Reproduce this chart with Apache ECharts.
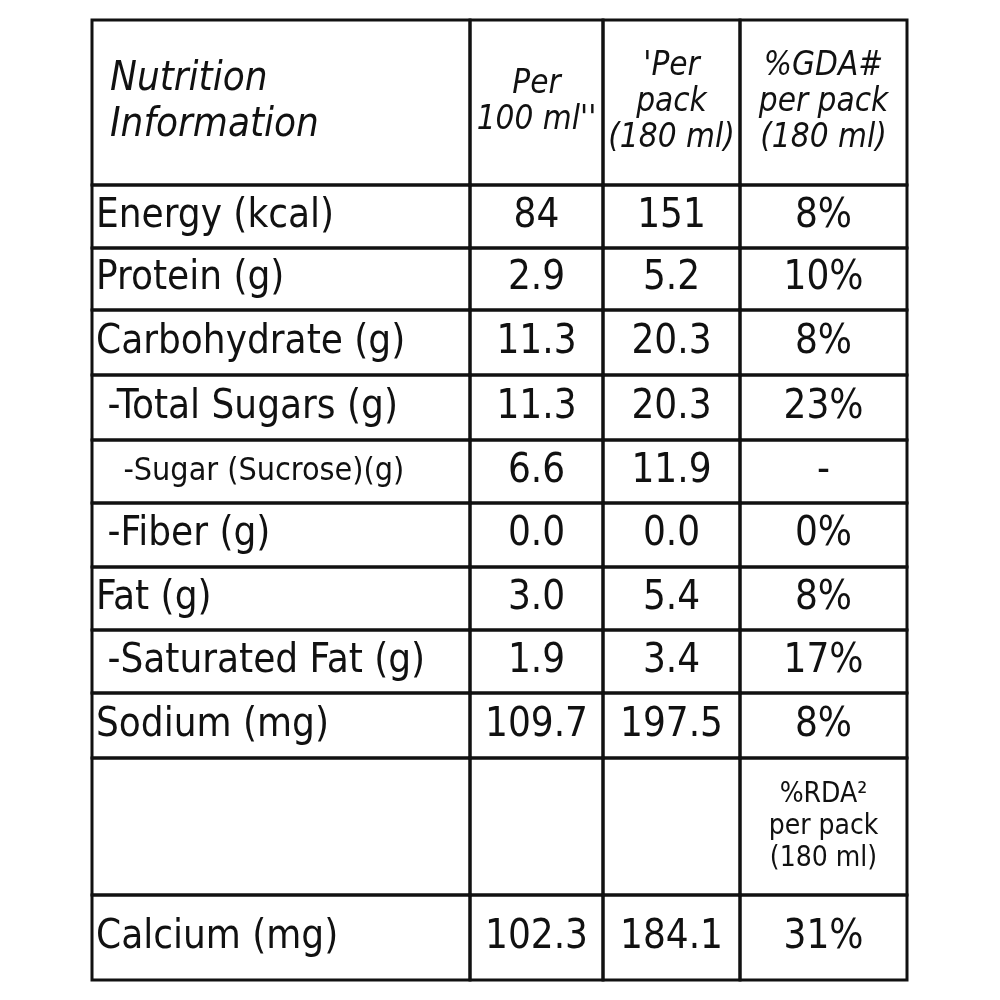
<!DOCTYPE html>
<html>
<head>
<meta charset="utf-8">
<script src="https://cdn.jsdelivr.net/npm/echarts@6/dist/echarts.min.js"></script>
<style>html,body{margin:0;background:#fff}#chart{width:1000px;height:1000px}</style>
</head>
<body>
<div id="chart"></div>
<script>
// table content
const rowNames = ['Energy (kcal)', 'Protein (g)', 'Carbohydrate (g)', ' -Total Sugars (g)', '   -Sugar (Sucrose)(g)',
  ' -Fiber (g)', 'Fat (g)', ' -Saturated Fat (g)', 'Sodium (mg)', '', 'Calcium (mg)']
const per100 = ['84', '2.9', '11.3', '11.3', '6.6', '0.0', '3.0', '1.9', '109.7', '', '102.3']
const perPack = ['151', '5.2', '20.3', '20.3', '11.9', '0.0', '5.4', '3.4', '197.5', '', '184.1']
const gda = ['8%', '10%', '8%', '23%', '-', '0%', '8%', '17%', '8%', '%RDA\u00b2\nper pack\n(180 ml)', '31%']
const headers = ['Nutrition\nInformation', 'Per\n100 ml\'\'', '\'Per\npack\n(180 ml)', '%GDA#\nper pack\n(180 ml)']

// layout (pixel-ish units on the axes)
const colEdges = [0, 378, 511, 648, 815]
const rowEdges = [0, 165, 228, 290, 355, 420, 483, 547, 610, 673, 738, 875, 960]

const chart = echarts.init(document.getElementById('chart'))
const rows = [headers].concat(rowNames.map((n, i) => [n, per100[i], perPack[i], gda[i]]))

const font = '"DejaVu Sans Condensed", "Liberation Sans Narrow", sans-serif'

chart.setOption({
  animation: false,
  grid: { left: 92, right: 93, top: 20, bottom: 20 },
  xAxis: { type: 'value', min: 0, max: 815, show: false },
  yAxis: { type: 'value', min: 0, max: 960, inverse: true, show: false },
  series: [{
    type: 'custom',
    data: rows.map((r, i) => [i]),
    renderItem(params, api) {
      const i = api.value(0)
      const r = rows[i]
      const children = []
      for (let c = 0; c < 4; c++) {
        const p0 = api.coord([colEdges[c], rowEdges[i]])
        const p1 = api.coord([colEdges[c + 1], rowEdges[i + 1]])
        children.push({
          type: 'rect',
          shape: { x: p0[0], y: p0[1], width: p1[0] - p0[0], height: p1[1] - p0[1] },
          style: { fill: 'none', stroke: '#111', lineWidth: 3 }
        })
        const isHead = i === 0
        const small = isHead || (i === 10 && c === 3)
        const left = c === 0
        let size = isHead ? (left ? 40 : 33) : (small ? 28 : 40)
        if (i === 5 && left) size = 32
        children.push({
          type: 'text',
          style: {
            text: r[c],
            x: left ? p0[0] + (isHead ? 18 : 4) : (p0[0] + p1[0]) / 2,
            y: (p0[1] + p1[1]) / 2,
            align: left ? 'left' : 'center',
            verticalAlign: 'middle',
            fontFamily: font,
            fontSize: size,
            fontStyle: isHead ? 'italic' : 'normal',
            lineHeight: isHead ? (left ? 46 : 36) : 32,
            fill: '#111'
          }
        })
      }
      return { type: 'group', children }
    }
  }]
})
</script>
</body>
</html>
